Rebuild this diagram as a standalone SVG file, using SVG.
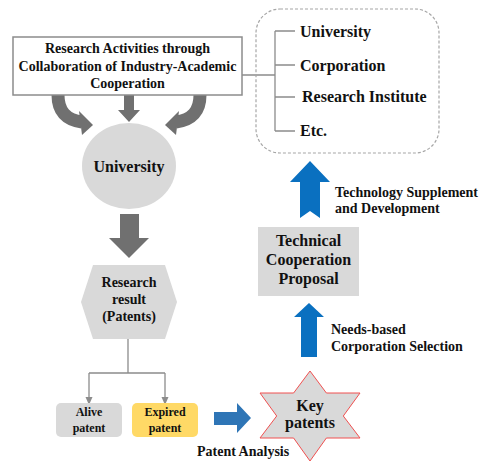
<svg xmlns="http://www.w3.org/2000/svg" width="483" height="462" viewBox="0 0 483 462" font-family="Liberation Serif, DejaVu Serif, serif">
<defs>
<style>
text{font-family:'Liberation Serif','DejaVu Serif',serif;font-weight:700;fill:#111;text-anchor:middle}
.l{text-anchor:start}
.gray{fill:#d9d9d9}
.conn{stroke:#8c8c8c;stroke-width:1.3;fill:none}
.garrow{fill:#707070}
.barrow{fill:#0a70c0}
</style>
<marker id="ah" markerWidth="8" markerHeight="8" refX="4" refY="4" orient="auto" markerUnits="userSpaceOnUse">
<path d="M0,0.5 L8,4 L0,7.5 Z" fill="#8c8c8c"/>
</marker>
</defs>
<rect width="483" height="462" fill="#fff"/>

<g id="connectors">
<path class="conn" d="M242,75 H275 M275,31 V131 M275,31 H295 M275,65 H295 M275,97 H295 M275,131 H295"/>
<path class="conn" d="M128,339 V373 M89,373 H165"/>
<path class="conn" d="M89,373 V401" marker-end="url(#ah)"/>
<path class="conn" d="M165,373 V401" marker-end="url(#ah)"/>
<path d="M58,95 Q58,119 82,122" stroke="#707070" stroke-width="13" fill="none"/>
<polygon class="garrow" points="79,111 93,125 82,135"/>
<path d="M200,95 Q200,119 176,122" stroke="#707070" stroke-width="13" fill="none"/>
<polygon class="garrow" points="179,111 165,125 176,135"/>
<polygon class="garrow" points="124,95 134,95 134,110 140,110 129,122 118,110 124,110"/>
<polygon class="garrow" points="120,214 139,214 139,238 149,238 129,258 109,238 120,238"/>
<polygon class="barrow" points="300,218 310,211 320,218 320,182 330,182 310,161 290,182 300,182"/>
<polygon class="barrow" points="301,357 317,357 317,317 324,317 309,303 294,317 301,317"/>
<polygon fill="#2e75b6" points="214,412 237,412 237,403 251,418 237,433 237,425 214,425"/>
</g>

<g id="top-box">
<rect x="13" y="37" width="229" height="58" fill="#fff" stroke="#8c8c8c" stroke-width="1.5"/>
<text x="127.5" y="53" font-size="14">Research Activities through</text>
<text x="127.5" y="71" font-size="14">Collaboration of Industry-Academic</text>
<text x="127.5" y="88" font-size="14">Cooperation</text>
</g>

<g id="partners">
<rect x="256" y="9" width="183" height="144" rx="24" fill="none" stroke="#a6a6a6" stroke-width="1.2" stroke-dasharray="3,2"/>
<text class="l" x="300" y="37" font-size="16">University</text>
<text class="l" x="300" y="71" font-size="16">Corporation</text>
<text class="l" x="302" y="102" font-size="16">Research Institute</text>
<text class="l" x="300" y="136" font-size="16">Etc.</text>
</g>

<g id="university">
<ellipse class="gray" cx="129" cy="166" rx="47" ry="43"/>
<text x="129" y="172" font-size="16">University</text>
</g>

<g id="research-result">
<polygon class="gray" points="93,265 165,265 177,302 165,339 93,339 81,302"/>
<text x="129" y="287" font-size="14">Research</text>
<text x="129" y="304" font-size="14">result</text>
<text x="129" y="321" font-size="14">(Patents)</text>
</g>

<g id="alive-patent">
<rect class="gray" x="56" y="403" width="66" height="34" rx="5"/>
<text x="89" y="416" font-size="12">Alive</text>
<text x="89" y="432" font-size="12">patent</text>
</g>

<g id="expired-patent">
<rect x="132" y="403" width="66" height="34" rx="5" fill="#ffd966"/>
<text x="165" y="416" font-size="12">Expired</text>
<text x="165" y="432" font-size="12">patent</text>
</g>

<g id="patent-analysis">
<text class="l" x="197" y="456" font-size="14">Patent Analysis</text>
</g>

<g id="key-patents">
<polygon class="gray" stroke="#f05050" stroke-width="1" points="310,371 326.4,393 360,393 343.3,416 360,438 326.4,438 310,461 293.6,438 260,438 276.7,416 260,393 293.6,393"/>
<text x="310" y="411" font-size="16">Key</text>
<text x="310" y="428" font-size="16">patents</text>
</g>

<g id="needs-label">
<text class="l" x="331" y="334" font-size="14">Needs-based</text>
<text class="l" x="331" y="351" font-size="14">Corporation Selection</text>
</g>

<g id="technical-proposal">
<rect class="gray" x="258" y="227" width="101" height="69"/>
<text x="308.5" y="246" font-size="16">Technical</text>
<text x="308.5" y="265" font-size="16">Cooperation</text>
<text x="308.5" y="284" font-size="16">Proposal</text>
</g>

<g id="tech-label">
<text class="l" x="335" y="197" font-size="14">Technology Supplement</text>
<text class="l" x="335" y="213" font-size="14">and  Development</text>
</g>
</svg>
